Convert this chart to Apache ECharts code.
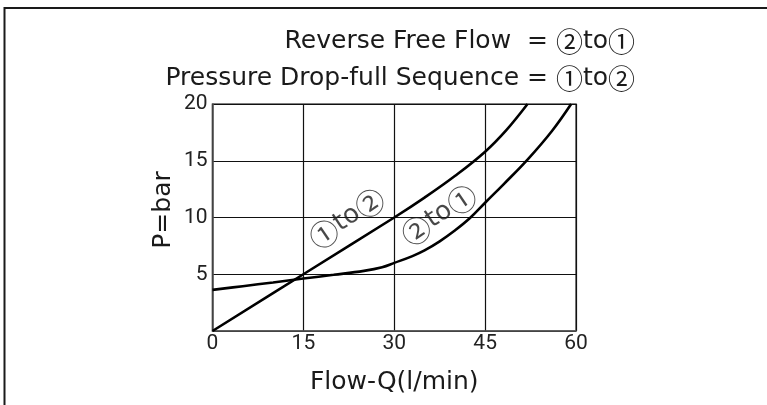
<!DOCTYPE html>
<html>
<head>
<meta charset="utf-8">
<script src="https://cdn.jsdelivr.net/npm/echarts@6/dist/echarts.min.js"></script>
<style>html,body{margin:0;padding:0;background:#fff}#c{width:767px;height:405px}</style>
</head>
<body>
<div id="c"></div>
<script>
// Data
var xTicks = [0, 15, 30, 45, 60];
var yTicks = [0, 5, 10, 15, 20];
var curve12 = [[0,0],[15,5],[30,10],[35,11.75],[40,13.65],[45,15.8],[48.5,17.7],[52,20]];
var curve21 = [[0,3.62],[5,3.95],[10,4.28],[15,4.62],[20,4.95],[25,5.3],[28,5.62],[30,6.0],[33,6.6],[35,7.1],[37.5,7.9],[40,8.85],[42.5,9.95],[45,11.3],[48,12.9],[52,15.1],[56,17.6],[59.2,20]];
var curveLabels = [
  {name: '{c|①}to{c|②}', value: [22.2, 9.9]},
  {name: '{c|②}to{c|①}', value: [37.4, 10.2]}
];
var titleLines = ['Reverse Free Flow  = {c|②}to{c|①}', 'Pressure Drop-full Sequence = {c|①}to{c|②}'];
var xName = 'Flow-Q(l/min)';
var yName = 'P=bar';

var mainFont = "'DejaVu Sans', sans-serif";
var circFont = "'Noto Sans CJK JP', 'Noto Sans CJK SC', serif";
var tickFont = "Roboto, 'Liberation Sans', sans-serif";

var chart = echarts.init(document.getElementById('c'), null, {renderer: 'canvas'});
chart.setOption({
  animation: false,
  backgroundColor: '#fff',
  grid: {left: 212.5, top: 104, right: 191, bottom: 74, containLabel: false, outerBoundsMode: 'none',
         show: true, borderColor: '#555', borderWidth: 1.5},
  xAxis: {
    type: 'value', min: xTicks[0], max: xTicks[xTicks.length-1], interval: 15,
    name: xName, nameLocation: 'middle', nameGap: 39,
    nameTextStyle: {fontFamily: mainFont, fontSize: 25, color: '#1a1a1a'},
    axisLine: {show: true, lineStyle: {color: '#555', width: 1.5}},
    axisTick: {show: false},
    axisLabel: {fontFamily: tickFont, fontSize: 21, color: '#222', margin: 2},
    splitLine: {show: true, lineStyle: {color: '#111', width: 1.2}}
  },
  yAxis: {
    type: 'value', min: yTicks[0], max: yTicks[yTicks.length-1], interval: 5,
    name: yName, nameLocation: 'middle', nameGap: 37,
    nameTextStyle: {fontFamily: mainFont, fontSize: 25, color: '#1a1a1a', padding: [0, 0, 0, 15]},
    axisLine: {show: true, lineStyle: {color: '#555', width: 1.5}},
    axisTick: {show: false},
    axisLabel: {fontFamily: tickFont, fontSize: 21, color: '#222', margin: 5, showMinLabel: false},
    splitLine: {show: true, lineStyle: {color: '#111', width: 1.2}}
  },
  series: [
    {type: 'line', data: curve12, smooth: 0.4, symbol: 'none', lineStyle: {color: '#000', width: 2.6}, z: 3},
    {type: 'line', data: curve21, smooth: 0.4, symbol: 'none', lineStyle: {color: '#000', width: 2.6}, z: 3},
    {type: 'scatter', data: curveLabels, symbolSize: 0, z: 4,
     label: {show: true, position: 'inside', formatter: '{b}', rotate: 34,
             fontFamily: mainFont, fontSize: 26, color: '#1a1a1a',
             rich: {c: {fontFamily: circFont, fontSize: 29, color: '#1a1a1a'}}}}
  ],
  graphic: [
    {type: 'polyline', shape: {points: [[4.5, 405], [4.5, 8], [767, 8]]},
     style: {stroke: '#1a1a1a', lineWidth: 2, fill: null}},
    {type: 'text', right: 132, top: 28,
     style: {text: titleLines[0], fontFamily: mainFont, fontSize: 25, fill: '#1a1a1a',
             rich: {c: {fontFamily: circFont, fontSize: 27, fill: '#1a1a1a'}}}},
    {type: 'text', right: 132, top: 65,
     style: {text: titleLines[1], fontFamily: mainFont, fontSize: 25, fill: '#1a1a1a',
             rich: {c: {fontFamily: circFont, fontSize: 27, fill: '#1a1a1a'}}}}
  ]
});
</script>
</body>
</html>
